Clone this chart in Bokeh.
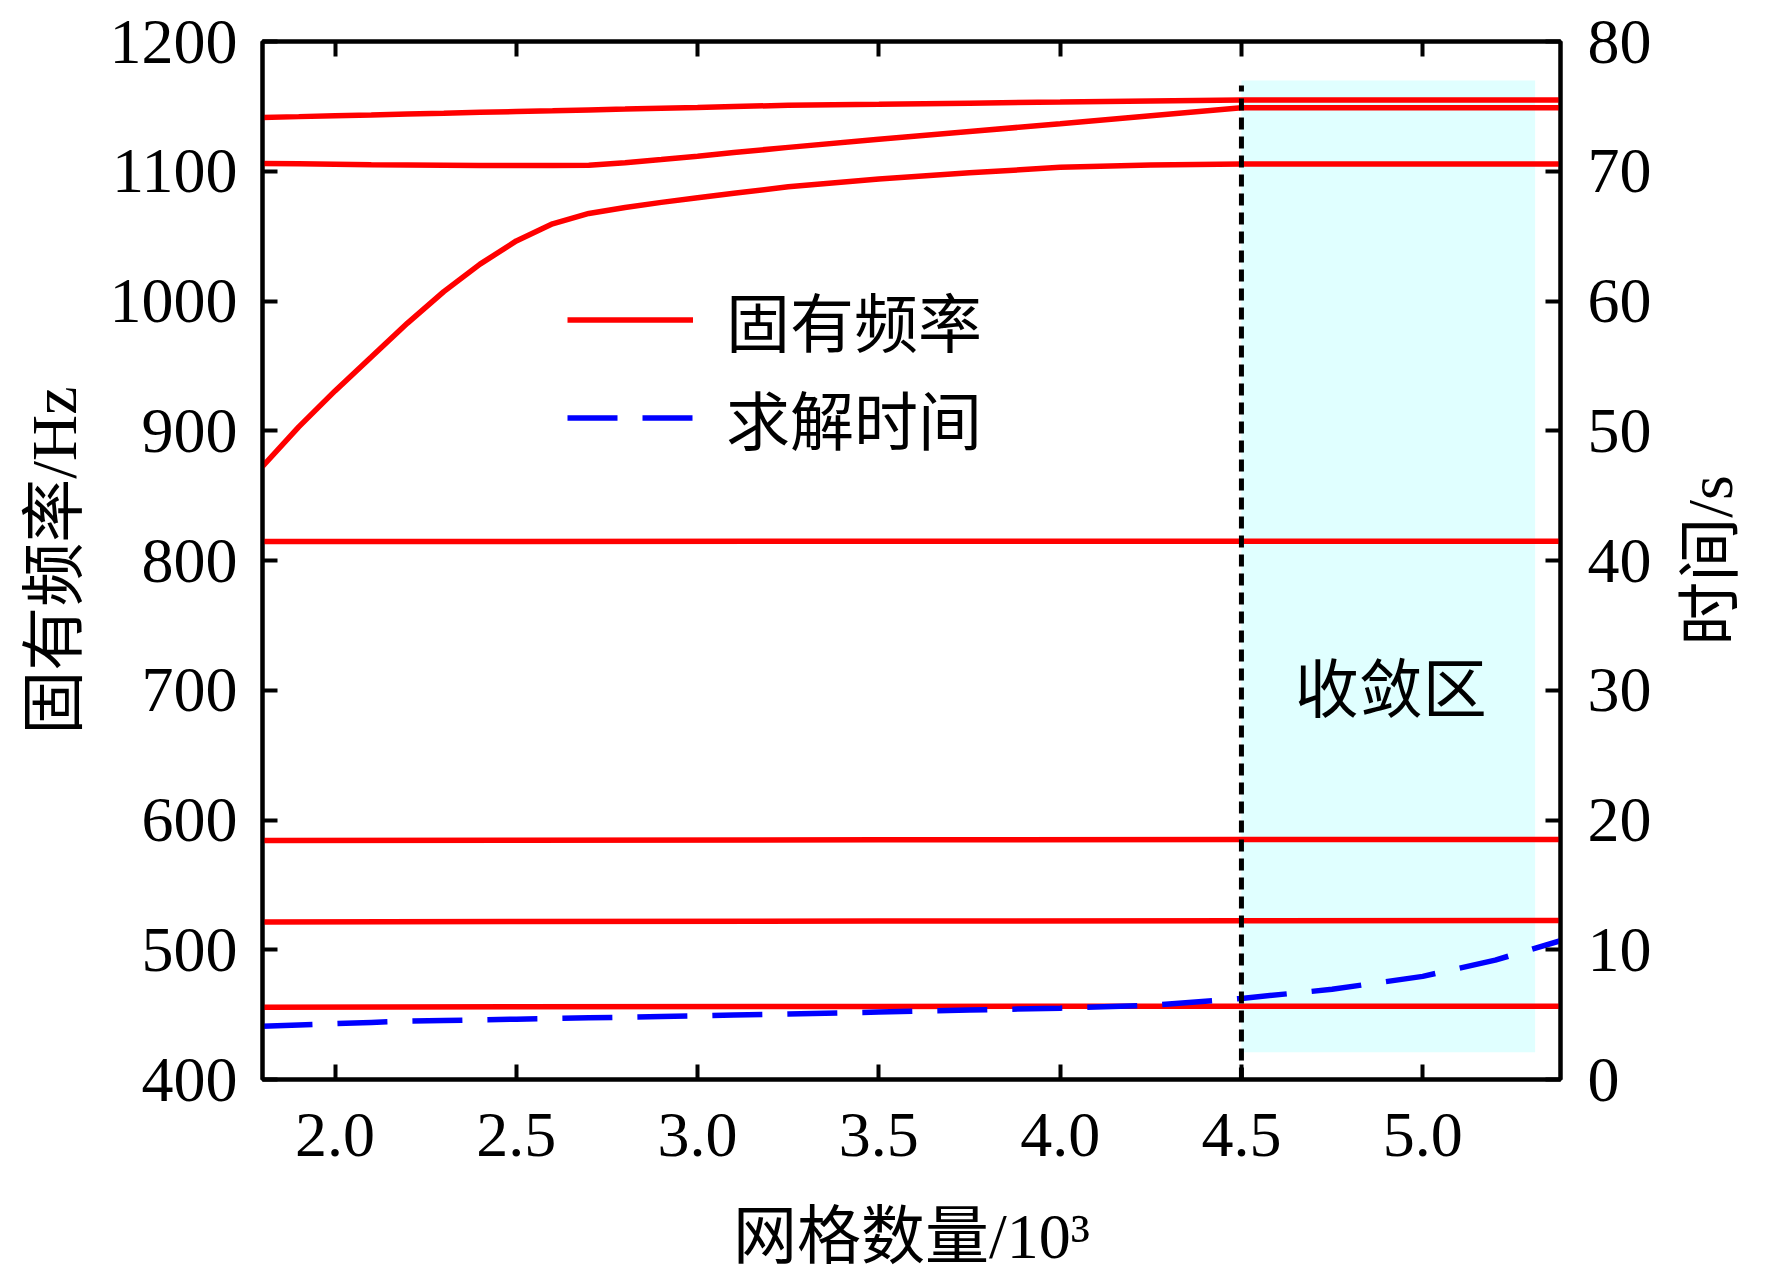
import math
from bokeh.plotting import figure
from bokeh.layouts import row
from bokeh.models import (Range1d, LinearAxis, FixedTicker, NumeralTickFormatter,
                          CustomJSTickFormatter, Legend, LegendItem, Label,
                          ColumnDataSource)
from bokeh.core.properties import value
from bokeh.embed import file_html
from bokeh.resources import INLINE

# ---------------- data ----------------
mesh_k = [1.8, 1.9, 2.0, 2.1, 2.2, 2.3, 2.4, 2.5, 2.6, 2.7, 2.8, 2.9, 3.0, 3.1,
          3.25, 3.5, 3.75, 4.0, 4.25, 4.5, 4.75, 5.0, 5.2, 5.38]

freq_mode_top = [1141.5, 1142.1, 1142.8, 1143.4, 1144.1, 1144.7, 1145.4, 1146.0,
                 1146.6, 1147.3, 1147.9, 1148.6, 1149.2, 1149.9, 1150.8, 1151.6,
                 1152.5, 1153.3, 1154.2, 1155.0, 1155.0, 1155.0, 1155.0, 1155.0]
freq_mode_mid = [1106.0, 1105.7, 1105.4, 1105.1, 1104.9, 1104.7, 1104.5, 1104.4,
                 1104.4, 1104.6, 1106.6, 1109.0, 1111.5, 1114.4, 1118.4, 1124.6,
                 1130.6, 1136.6, 1142.8, 1149.0, 1149.0, 1149.0, 1149.0, 1149.0]
freq_mode_rise = [872.5, 903.0, 930.7, 956.8, 983.0, 1007.2, 1028.4, 1046.3,
                  1059.5, 1067.5, 1072.1, 1076.0, 1079.5, 1083.0, 1088.0, 1094.0,
                  1098.8, 1103.0, 1104.9, 1105.5, 1105.5, 1105.5, 1105.5, 1105.5]
solve_time_s = [4.10, 4.20, 4.30, 4.40, 4.50, 4.55, 4.60, 4.65, 4.70, 4.75, 4.80,
                4.85, 4.90, 4.97, 5.05, 5.20, 5.35, 5.50, 5.72, 6.25, 6.95, 7.95,
                9.20, 10.70]

flat_mesh = [1.8, 2.5, 3.5, 4.5, 5.38]
freq_mode_815 = [814.6, 814.7, 814.8, 814.8, 814.8]
freq_mode_585 = [584.2, 584.4, 584.7, 584.9, 585.0]
freq_mode_522 = [521.3, 521.7, 522.1, 522.4, 522.5]
freq_mode_456 = [455.7, 456.0, 456.3, 456.5, 456.5]

converge_mesh = 4.5
zone_right = 5.31
zone_freq = [421, 1170]
marker_freq = [400, 1166]

x_ticks = [2.0, 2.5, 3.0, 3.5, 4.0, 4.5, 5.0]
y_ticks = [400, 500, 600, 700, 800, 900, 1000, 1100, 1200]
t_ticks = [0, 10, 20, 30, 40, 50, 60, 70, 80]

FONT = "Liberation Serif, Noto Sans CJK SC"
RED = "#FF0000"
BLUE = "#0000FF"

# ---------------- main figure ----------------
p = figure(frame_width=1298, frame_height=1038,
           x_range=Range1d(1.8, 5.38), y_range=Range1d(400, 1200),
           output_backend="svg", toolbar_location=None,
           min_border_left=262, min_border_right=100,
           min_border_top=41, min_border_bottom=190,
           background_fill_color="white", border_fill_color="white")
p.extra_y_ranges = {"time": Range1d(0, 80)}
p.grid.visible = False
p.outline_line_color = "black"
p.outline_line_width = 4


def style_axis(ax, ticks, fmt):
    ax.ticker = FixedTicker(ticks=ticks)
    ax.formatter = NumeralTickFormatter(format=fmt)
    ax.major_tick_in = 15
    ax.major_tick_out = 0
    ax.minor_tick_in = 0
    ax.minor_tick_out = 0
    ax.axis_line_width = 4
    ax.axis_line_color = "black"
    ax.major_tick_line_width = 4
    ax.major_tick_line_color = "black"
    ax.major_label_text_font = FONT
    ax.major_label_text_color = "black"
    ax.major_label_text_font_size = "64px"
    ax.axis_label_text_font = FONT
    ax.axis_label_text_font_size = "64px"
    ax.axis_label_text_font_style = "normal"
    ax.axis_label_text_color = "black"


xb = p.xaxis[0]
style_axis(xb, x_ticks, "0.0")
xb.major_label_standoff = 34
xb.axis_label = "网格数量/10³"
xb.axis_label_standoff = 42

yl = p.yaxis[0]
style_axis(yl, y_ticks, "0")
yl.major_label_standoff = 25
yl.axis_label = "固有频率/Hz"
yl.axis_label_standoff = 17

xt = LinearAxis()
style_axis(xt, x_ticks, "0.0")
xt.formatter = CustomJSTickFormatter(code="return ''")
xt.major_label_standoff = 0
p.add_layout(xt, "above")

yr = LinearAxis(y_range_name="time")
style_axis(yr, t_ticks, "0")
yr.major_label_standoff = 27
p.add_layout(yr, "right")

# ---------------- glyphs ----------------
p.quad(left=[converge_mesh], right=[zone_right], bottom=[zone_freq[0]], top=[zone_freq[1]],
       fill_color="#E0FFFF", line_color=None)

src = ColumnDataSource(dict(x=mesh_k, a=freq_mode_top, b=freq_mode_mid,
                            c=freq_mode_rise, t=solve_time_s))
flat_src = ColumnDataSource(dict(x=flat_mesh, d=freq_mode_815, e=freq_mode_585,
                                 f=freq_mode_522, g=freq_mode_456))

LW = 5.5
r_red = p.line("x", "a", source=src, line_color=RED, line_width=LW)
p.line("x", "b", source=src, line_color=RED, line_width=LW)
p.line("x", "c", source=src, line_color=RED, line_width=LW)
for col in ["d", "e", "f", "g"]:
    p.line("x", col, source=flat_src, line_color=RED, line_width=LW)

r_blue = p.line("x", "t", source=src, y_range_name="time", line_color=BLUE,
                line_width=LW, line_dash="50 25")

p.segment(x0=[converge_mesh], y0=[marker_freq[0]], x1=[converge_mesh], y1=[marker_freq[1]],
          line_color="black", line_width=5, line_dash="12 7")

# ---------------- annotations ----------------
p.add_layout(Label(x=4.912, y=700, text="收敛区", text_font=FONT, text_font_size="64px",
                   text_color="black", text_align="center", text_baseline="middle"))

legend = Legend(items=[LegendItem(label="固有频率", renderers=[r_red]),
                       LegendItem(label="求解时间", renderers=[r_blue])],
                location=(305, 616))
legend.label_text_font = FONT
legend.label_text_font_size = "64px"
legend.label_text_color = "black"
legend.background_fill_alpha = 0
legend.border_line_color = None
legend.glyph_width = 126
legend.glyph_height = 71
legend.label_height = 71
legend.label_standoff = 33
legend.spacing = 6
legend.padding = 0
legend.margin = 0
p.add_layout(legend)

# ---------------- right-hand axis title (reads bottom to top) ----------------
p2 = figure(frame_width=100, frame_height=1038, x_range=Range1d(0, 1), y_range=Range1d(0, 1),
            output_backend="svg", toolbar_location=None,
            min_border_left=0, min_border_right=0, min_border_top=41, min_border_bottom=0,
            x_axis_location=None, y_axis_location=None,
            background_fill_color="white", border_fill_color="white")
p2.outline_line_color = None
p2.grid.visible = False
p2.text(x=[0.5], y=[0.5], text=["时间/s"], angle=math.pi / 2,
        text_align="center", text_baseline="middle",
        text_font=value(FONT), text_font_size="64px", text_color="black")

layout = row(p, p2)
open("out.html", "w").write(file_html(layout, INLINE))
